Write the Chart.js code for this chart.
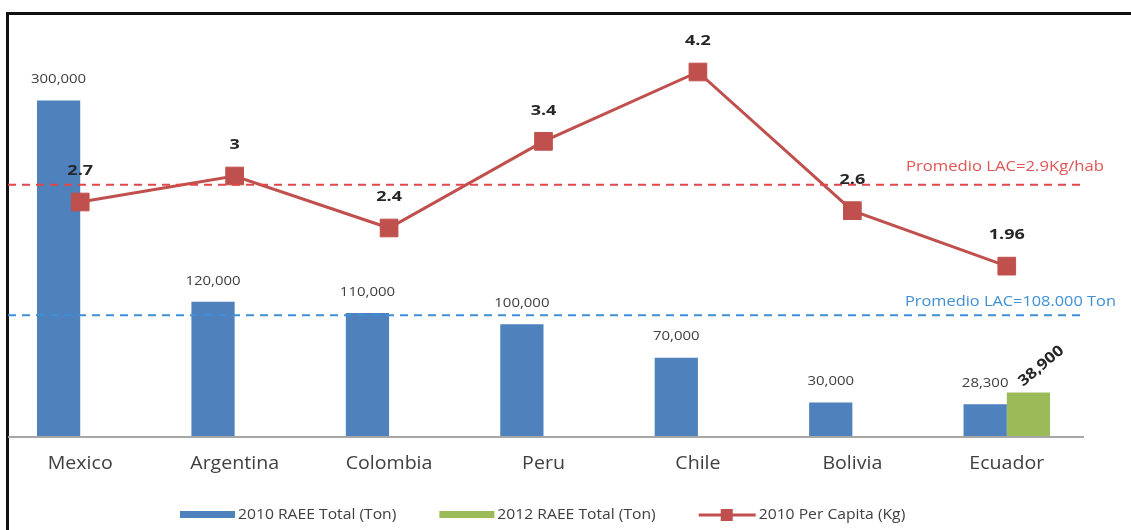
<!DOCTYPE html>
<html>
<head>
<meta charset="utf-8">
<script src="https://cdn.jsdelivr.net/npm/chart.js@4"></script>
<style>
  html, body { margin: 0; padding: 0; background: #fff; }
  #wrap { position: relative; width: 1131px; height: 530px; overflow: hidden; }
  #frame { position: absolute; left: 6px; top: 12px; width: 1200px; height: 600px;
           border-top: 3px solid #111; border-left: 3px solid #111; box-sizing: border-box; }
  canvas { position: absolute; left: 0; top: 0; }
</style>
</head>
<body>
<div id="wrap">
  <div id="frame"></div>
  <canvas id="c" width="1131" height="530"></canvas>
</div>
<script>
// ---- data ----
const categories = ['Mexico', 'Argentina', 'Colombia', 'Peru', 'Chile', 'Bolivia', 'Ecuador'];
const raee2010 = [300000, 120000, 110000, 100000, 70000, 30000, 28300];
const raee2012 = [null, null, null, null, null, null, 38900];
const perCapita2010 = [2.7, 3, 2.4, 3.4, 4.2, 2.6, 1.96];
const seriesLabels = ['2010 RAEE Total (Ton)', '2012 RAEE Total (Ton)', '2010 Per Capita (Kg)'];
const avgPerCapita = 2.9;
const avgTon = 108000;
const avgPerCapitaLabel = 'Promedio LAC=2.9Kg/hab';
const avgTonLabel = 'Promedio LAC=108.000 Ton';

const BLUE = '#4F81BD', GREEN = '#9BBB59', RED = '#C0504D';
const FONT = '"Open Sans", "Liberation Sans", sans-serif';

// draw text with a horizontal stretch factor
function sText(ctx, txt, x, y, sx, align) {
  ctx.save();
  ctx.textAlign = 'left';
  const w = ctx.measureText(txt).width * sx;
  let x0 = x;
  if (align === 'center') x0 = x - w / 2;
  else if (align === 'right') x0 = x - w;
  ctx.translate(x0, y);
  ctx.scale(sx, 1);
  ctx.fillText(txt, 0, 0);
  ctx.restore();
  return w;
}

const drawExtras = {
  id: 'drawExtras',
  afterDatasetsDraw(chart) {
    const ctx = chart.ctx;
    const xs = chart.scales.x, ys = chart.scales.y, y1 = chart.scales.y1;
    const area = chart.chartArea;
    ctx.save();

    // baseline
    const y0 = ys.getPixelForValue(0);
    ctx.strokeStyle = '#a6a6a6';
    ctx.lineWidth = 2;
    ctx.beginPath(); ctx.moveTo(8, y0 + 1); ctx.lineTo(area.right, y0 + 1); ctx.stroke();

    // average lines
    ctx.setLineDash([8, 6]);
    ctx.lineWidth = 2;
    const yr = y1.getPixelForValue(avgPerCapita);
    ctx.strokeStyle = '#E04848';
    ctx.beginPath(); ctx.moveTo(8, yr); ctx.lineTo(area.right, yr); ctx.stroke();
    const yb = ys.getPixelForValue(avgTon);
    ctx.strokeStyle = '#3F8FD6';
    ctx.beginPath(); ctx.moveTo(8, yb); ctx.lineTo(area.right, yb); ctx.stroke();
    ctx.setLineDash([]);

    ctx.textBaseline = 'middle';
    ctx.font = '15px ' + FONT;
    ctx.fillStyle = '#E05555';
    sText(ctx, avgPerCapitaLabel, 906, yr - 18, 1.11, 'left');
    ctx.fillStyle = '#3F8FD6';
    sText(ctx, avgTonLabel, 905, yb - 13, 1.09, 'left');

    // bar labels
    ctx.font = '13px ' + FONT;
    ctx.fillStyle = '#404040';
    chart.getDatasetMeta(0).data.forEach((bar, i) => {
      if (raee2010[i] == null) return;
      sText(ctx, raee2010[i].toLocaleString('en-US'), bar.x, bar.y - 21, 1.15, 'center');
    });
    chart.getDatasetMeta(1).data.forEach((bar, i) => {
      if (raee2012[i] == null) return;
      ctx.save();
      ctx.translate(bar.x - 8, bar.y - 9);
      ctx.rotate(-40 * Math.PI / 180);
      ctx.font = 'bold 15px ' + FONT;
      ctx.fillStyle = '#262626';
      sText(ctx, raee2012[i].toLocaleString('en-US'), 0, 0, 1.15, 'left');
      ctx.restore();
    });

    // line labels
    ctx.font = 'bold 15px ' + FONT;
    ctx.fillStyle = '#262626';
    chart.getDatasetMeta(2).data.forEach((pt, i) => {
      sText(ctx, String(perCapita2010[i]), pt.x, pt.y - 31, 1.2, 'center');
    });

    // category labels
    ctx.font = '19px ' + FONT;
    ctx.fillStyle = '#404040';
    categories.forEach((c, i) => {
      sText(ctx, c, xs.getPixelForValue(i), 464, 1.03, 'center');
    });

    // legend
    ctx.font = '14px ' + FONT;
    const ly = 515;
    let lx = 180;
    const colors = [BLUE, GREEN, RED];
    seriesLabels.forEach((lab, k) => {
      if (k < 2) {
        ctx.fillStyle = colors[k];
        ctx.fillRect(lx, ly - 4, 55, 7);
      } else {
        ctx.strokeStyle = RED; ctx.lineWidth = 3;
        ctx.beginPath(); ctx.moveTo(lx, ly); ctx.lineTo(lx + 57, ly); ctx.stroke();
        ctx.fillStyle = RED;
        ctx.fillRect(lx + 22, ly - 6, 12, 12);
      }
      ctx.fillStyle = '#404040';
      const tx = lx + (k < 2 ? 58 : 60);
      const w = sText(ctx, lab, tx, ly, 1.12, 'left');
      lx = tx + w + 43;
    });

    ctx.restore();
  }
};

new Chart(document.getElementById('c'), {
  data: {
    labels: categories,
    datasets: [
      { type: 'bar', label: seriesLabels[0], data: raee2010, backgroundColor: BLUE, yAxisID: 'y',
        categoryPercentage: 0.56, barPercentage: 1.0, order: 2 },
      { type: 'bar', label: seriesLabels[1], data: raee2012, backgroundColor: GREEN, yAxisID: 'y',
        categoryPercentage: 0.56, barPercentage: 1.0, order: 2 },
      { type: 'line', label: seriesLabels[2], data: perCapita2010, borderColor: RED, backgroundColor: RED,
        borderWidth: 3, pointStyle: 'rect', pointRadius: 12.5, pointBorderWidth: 1, pointBorderColor: RED,
        pointBackgroundColor: RED, yAxisID: 'y1', tension: 0, order: 1 }
    ]
  },
  options: {
    responsive: false,
    animation: false,
    devicePixelRatio: 1,
    layout: { autoPadding: false, padding: { left: 3, right: 47, top: 20, bottom: 94 } },
    plugins: { legend: { display: false }, tooltip: { enabled: false } },
    scales: {
      x: { display: false, offset: true },
      y: { display: false, min: 0, max: 372000 },
      y1: { display: false, min: 0, max: 4.8, position: 'right' }
    }
  },
  plugins: [drawExtras]
});
</script>
</body>
</html>
